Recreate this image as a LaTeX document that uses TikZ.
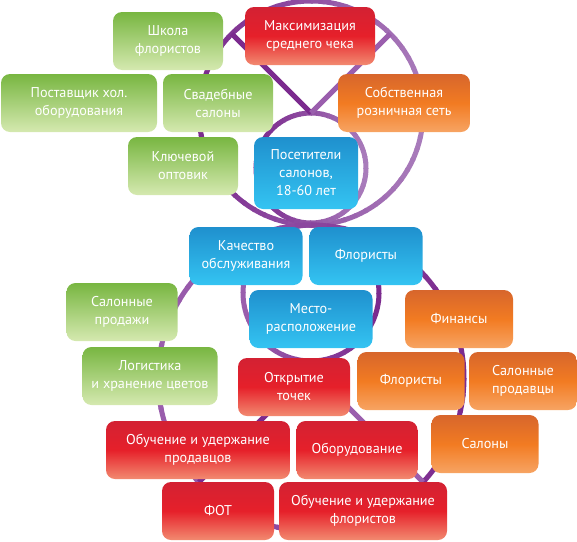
\documentclass[tikz,border=0pt]{standalone}
\usepackage{fontspec}
\setmainfont{PT Sans}
\usetikzlibrary{calc}
\definecolor{plumdk}{HTML}{7B2A8E}
\definecolor{plumlt}{HTML}{A97CBB}
\definecolor{plummd}{HTML}{9A5EAD}
\definecolor{leaftop}{HTML}{78B641}
\definecolor{leafbot}{HTML}{D5E9B0}
\definecolor{rubytop}{HTML}{D32133}
\definecolor{rubymid}{HTML}{E6202A}
\definecolor{rubybot}{HTML}{F28A70}
\definecolor{ambtop}{HTML}{D7662C}
\definecolor{ambmid}{HTML}{F27B22}
\definecolor{ambbot}{HTML}{F7A463}
\definecolor{skytop}{HTML}{1F90CE}
\definecolor{skybot}{HTML}{34C4F2}

\begin{document}
\begin{tikzpicture}[
  x=1pt, y=-1pt,
  ring/.style={line width=5pt},
  tile/.style={
    rounded corners=9pt, minimum width=#1pt, minimum height=58pt,
    text=white, align=center, inner sep=2pt,
    font=\fontsize{14.2}{18}\selectfont
  },
  leaf/.style={tile=#1, top color=leaftop, bottom color=leafbot},
  ruby/.style={tile=#1, top color=rubytop, bottom color=rubybot, middle color=rubymid},
  amber/.style={tile=#1, top color=ambtop, bottom color=ambbot, middle color=ambmid},
  sky/.style={tile=#1, top color=skytop, bottom color=skybot},
]

% Canvas
\useasboundingbox (0,0) rectangle (577,541);

% ---- Ring centres ----
\coordinate (upc)  at (311,113);
\coordinate (smc)  at (311,168);
\coordinate (mdc)  at (311,293);
\coordinate (loc)  at (311,378);
\coordinate (apex) at (311,370);

% Upper rings: dark on the left, light on the right
\foreach \c/\r in {upc/112, smc/55} {
  \foreach \a [evaluate=\a as \p using {50+50*cos(\a)}] in {0,6,...,354} {
    \draw[ring, draw=plumlt!\p!plumdk] (\c) ++(\a:\r) arc[start angle=\a, end angle=\a+7, radius=\r];
  }
}

% Lower rings: lighter on the left, dark on the right
\foreach \c/\r in {mdc/68, loc/153} {
  \foreach \a [evaluate=\a as \p using {50+50*cos(\a)}] in {0,6,...,354} {
    \draw[ring, draw=plumdk!\p!plummd] (\c) ++(\a:\r) arc[start angle=\a, end angle=\a+7, radius=\r];
  }
}

% ---- V above, inverted V below ----
\coordinate (vL) at ($(upc)+(-135:112)$);
\coordinate (vR) at ($(upc)+(-45:112)$);
\draw[ring, plumdk] (vL) -- (upc);
\draw[ring, plummd] (vR) -- (upc);
\coordinate (wL) at (199,482);
\coordinate (wR) at (423,482);
\draw[ring, plumdk] (apex) -- (wL);
\draw[ring, plummd] (apex) -- (wR);

% ---- Green boxes ----
\node[leaf=110] (school)     at (168,41)  {Школа\\флористов};
\node[leaf=156] (supplier)   at (79,103)  {Поставщик хол.\\оборудования};
\node[leaf=110] (wedding)    at (218,103) {Свадебные\\салоны};
\node[leaf=110] (wholesale)  at (183,166) {Ключевой\\оптовик};
\node[leaf=111] (salonsales) at (122,312) {Салонные\\продажи};
\node[leaf=135] (logistics)  at (150,376) {Логистика\\и хранение цветов};

% ---- Blue boxes ----
\node[sky=104, minimum height=72pt] (visitors) at (306,173) {Посетители\\салонов,\\18-60 лет};
\node[sky=113] (service)   at (246,256) {Качество\\обслуживания};
\node[sky=113] (floristsB) at (366,256) {Флористы};
\node[sky=123] (location)  at (311,319) {Место-\\расположение};

% ---- Orange boxes ----
\node[amber=132] (retail)    at (404,103) {Собственная\\розничная сеть};
\node[amber=108] (finance)   at (459,319) {Финансы};
\node[amber=107] (floristsO) at (411,381) {Флористы};
\node[amber=108] (sellers)   at (523,381) {Салонные\\продавцы};
\node[amber=107] (salons)    at (485,444) {Салоны};

% ---- Red boxes ----
\node[ruby=130] (avgcheck)  at (310,36)  {Максимизация\\среднего чека};
\node[ruby=112] (opening)   at (294,387) {Открытие\\точек};
\node[ruby=184] (trainsell) at (198,450) {Обучение и удержание\\продавцов};
\node[ruby=121] (equipment) at (357,450) {Оборудование};
\node[ruby=112] (payroll)   at (218,511) {ФОТ};
\node[ruby=168] (trainflor) at (363,511) {Обучение и удержание\\флористов};

\end{tikzpicture}
\end{document}
